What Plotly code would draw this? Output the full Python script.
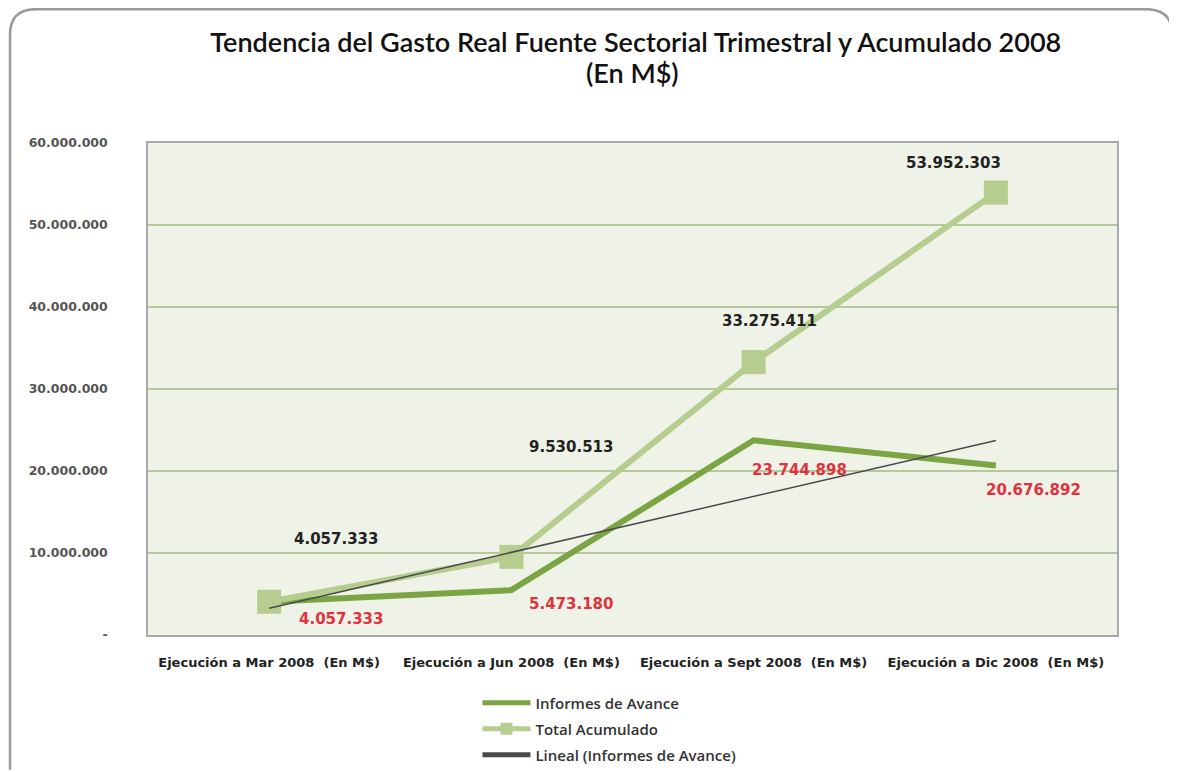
import numpy as np
import plotly.graph_objects as go

categorias = [
    "Ejecución a Mar 2008  (En M$)",
    "Ejecución a Jun 2008  (En M$)",
    "Ejecución a Sept 2008  (En M$)",
    "Ejecución a Dic 2008  (En M$)",
]
informes_avance = [4057333, 5473180, 23744898, 20676892]
total_acumulado = [4057333, 9530513, 33275411, 53952303]
ticks_y = [0, 10000000, 20000000, 30000000, 40000000, 50000000, 60000000]
ticks_y_texto = ["-", "10.000.000", "20.000.000", "30.000.000", "40.000.000",
                 "50.000.000", "60.000.000"]


def fmt(v):
    return f"{v:,}".replace(",", ".")


x = list(range(len(categorias)))
# linea de tendencia lineal sobre Informes de Avance
pend, inter = np.polyfit(np.array(x) + 1, informes_avance, 1)
lineal = [pend * (i + 1) + inter for i in x]

fig = go.Figure()
fig.add_trace(go.Scatter(
    x=x, y=informes_avance, mode="lines", name="Informes de Avance",
    line=dict(color="#7ba443", width=6), legend="legend",
))
fig.add_trace(go.Scatter(
    x=x, y=total_acumulado, mode="lines+markers", name="Total Acumulado",
    line=dict(color="#b5cd8f", width=6),
    marker=dict(symbol="square", size=24, color="#b5cd8f"), legend="legend2",
))
fig.add_trace(go.Scatter(
    x=x, y=lineal, mode="lines", name="Lineal (Informes de Avance)",
    line=dict(color="#4a4a4a", width=1.5), legend="legend3",
))

# etiquetas Total Acumulado (negro)
offs_total = [(67, 63), (60, 110), (16, 41), (-42, 30)]
for i, (dx, dy) in enumerate(offs_total):
    fig.add_annotation(x=x[i], y=total_acumulado[i], text="<b>" + fmt(total_acumulado[i]) + "</b>",
                       xshift=dx, yshift=dy, showarrow=False,
                       font=dict(size=15, color="#222222", family="Verdana, DejaVu Sans"))

# etiquetas Informes de Avance (rojo)
offs_inf = [(72, -17), (60, -14), (46, -30), (38, -25)]
for i, (dx, dy) in enumerate(offs_inf):
    fig.add_annotation(x=x[i], y=informes_avance[i], text="<b>" + fmt(informes_avance[i]) + "</b>",
                       xshift=dx, yshift=dy, showarrow=False,
                       font=dict(size=15, color="#e0323e", family="Verdana, DejaVu Sans"))

# segunda linea del titulo
fig.add_annotation(xref="paper", yref="paper", x=0.5, y=1.1423, yanchor="middle",
                   text="(En M$)", showarrow=False,
                   font=dict(size=27, color="#111111", family="Lato", weight=600))

# marco redondeado exterior
fig.add_shape(type="path", xref="paper", yref="paper",
              path="M -0.1424,-0.274 L -0.1424,1.22 Q -0.1424,1.272 -0.116,1.272 "
                   "L 1.03,1.272 Q 1.057,1.272 1.057,1.22 L 1.057,-0.274",
              line=dict(color="#9a9a9a", width=2.5), layer="below")

legend_base = dict(x=0.34, xanchor="left", yanchor="middle", bgcolor="rgba(0,0,0,0)",
                   itemwidth=48, itemsizing="constant",
                   font=dict(size=15, color="#333333", family="Open Sans", weight=600))

fig.update_layout(
    width=1169, height=764,
    margin=dict(l=140, r=60, t=135, b=137, autoexpand=False),
    paper_bgcolor="white",
    plot_bgcolor="#eff2e7",
    title=dict(
        text="Tendencia del Gasto Real Fuente Sectorial Trimestral y Acumulado 2008",
        x=0.537, xanchor="center", y=0.9542, yanchor="middle",
        font=dict(size=27, color="#111111", family="Lato", weight=600),
    ),
    showlegend=True,
    legend=dict(y=-0.138, **legend_base),
    legend2=dict(y=-0.191, **legend_base),
    legend3=dict(y=-0.244, **legend_base),
    xaxis=dict(
        tickmode="array", tickvals=x, ticktext=categorias,
        range=[-0.5, 3.5], showgrid=False, zeroline=False, automargin=False,
        showline=True, linecolor="#a9a9a9", linewidth=1.5, mirror=True,
        tickfont=dict(size=13, color="#222222", family="DejaVu Sans", weight="bold"),
        ticks="", ticklabelstandoff=15,
    ),
    yaxis=dict(
        tickmode="array", tickvals=ticks_y, ticktext=ticks_y_texto,
        range=[0, 60000000], showgrid=True, gridcolor="#b5c99a", gridwidth=1.5,
        zeroline=False, showline=True, linecolor="#a9a9a9", linewidth=1.5, mirror=True,
        automargin=False,
        tickfont=dict(size=12.5, color="#555555", family="DejaVu Sans", weight="bold"),
        ticks="", ticklabelstandoff=36,
    ),
)

fig.write_html("out.html")
